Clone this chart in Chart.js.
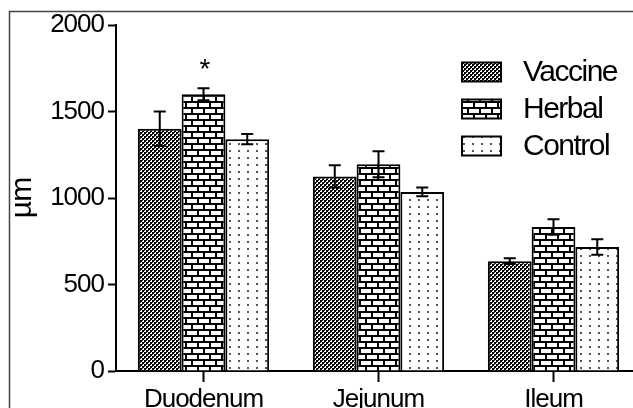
<!DOCTYPE html>
<html>
<head>
<meta charset="utf-8">
<script src="https://cdn.jsdelivr.net/npm/chart.js@4.4.1/dist/chart.umd.min.js"></script>
<style>
  html, body { margin: 0; padding: 0; background: #fff; overflow: hidden; }
  #wrap { position: relative; width: 660px; height: 408px; }
</style>
</head>
<body>
<div id="wrap"><canvas id="villusChart"></canvas></div>
<script>
// data
const segments = ['Duodenum', 'Jejunum', 'Ileum'];
const groups = ['Vaccine', 'Herbal', 'Control'];
const vaccineMean = [1400, 1125, 635];
const vaccineErr = [100, 65, 17];
const herbalMean = [1600, 1195, 832];
const herbalErr = [35, 75, 45];
const controlMean = [1340, 1035, 717];
const controlErr = [30, 25, 45];
const herbalMarks = ['*', '', ''];
const yTicks = [0, 500, 1000, 1500, 2000];
const yTickLabels = ['0', '500', '1000', '1500', '2000'];

const FONT = 'Liberation Sans, Arial, sans-serif';

// hatch patterns like the old print figure
function makePattern(kind) {
    const c = document.createElement('canvas');
    const g = c.getContext('2d');
    if (kind === 'check') {
        c.width = 4; c.height = 4;
        g.fillStyle = '#fff'; g.fillRect(0, 0, 4, 4);
        g.fillStyle = '#000';
        g.fillRect(0, 0, 2, 2);
        g.fillRect(2, 2, 2, 2);
        g.fillStyle = '#333';
        g.fillRect(2, 0, 1, 1);
        g.fillRect(0, 2, 1, 1);
    } else if (kind === 'brick') {
        c.width = 12; c.height = 12;
        g.fillStyle = '#000'; g.fillRect(0, 0, 12, 12);
        g.fillStyle = '#fff';
        g.fillRect(1, 1, 10, 4);
        g.fillRect(7, 7, 10, 4);
        g.fillRect(-5, 7, 10, 4);
    } else {
        c.width = 9; c.height = 7;
        g.fillStyle = '#fff'; g.fillRect(0, 0, 9, 7);
        g.fillStyle = '#555';
        g.fillRect(4, 3, 2, 2);
    }
    return g.createPattern(c, 'repeat');
}

const fills = [makePattern('check'), makePattern('brick'), makePattern('dots')];

const frame = {
    id: 'frame',
    beforeDraw(chart) {
        const ctx = chart.ctx;
        ctx.save();
        ctx.fillStyle = '#fff';
        ctx.fillRect(0, 0, chart.width, chart.height);
        ctx.strokeStyle = '#444';
        ctx.lineWidth = 1.5;
        ctx.strokeRect(9.5, 11.5, 800, 600);
        ctx.restore();
        // the figure's lettering is set tight
        ctx.letterSpacing = '-1px';
    }
};

const errorBars = {
    id: 'errorBars',
    afterDatasetsDraw(chart) {
        const ctx = chart.ctx;
        const y = chart.scales.y;
        ctx.save();
        ctx.strokeStyle = '#000';
        ctx.lineWidth = 2;
        chart.data.datasets.forEach((ds, i) => {
            const meta = chart.getDatasetMeta(i);
            meta.data.forEach((bar, j) => {
                const v = ds.data[j], e = ds.errors[j];
                const top = y.getPixelForValue(v + e);
                const bot = y.getPixelForValue(v - e);
                ctx.beginPath();
                ctx.moveTo(bar.x, top); ctx.lineTo(bar.x, bot);
                ctx.moveTo(bar.x - 6, top); ctx.lineTo(bar.x + 6, top);
                ctx.moveTo(bar.x - 6, bot); ctx.lineTo(bar.x + 6, bot);
                ctx.stroke();
                if (ds.marks && ds.marks[j]) {
                    ctx.fillStyle = '#000';
                    ctx.font = '28px ' + FONT;
                    ctx.textAlign = 'center';
                    ctx.textBaseline = 'bottom';
                    ctx.fillText(ds.marks[j], bar.x + 1, top - 4);
                }
            });
        });
        ctx.restore();
    }
};

const boxLegend = {
    id: 'boxLegend',
    afterDraw(chart, args, opts) {
        const ctx = chart.ctx;
        ctx.save();
        chart.data.datasets.forEach((ds, i) => {
            const yc = opts.y + i * opts.rowGap;
            ctx.fillStyle = ds.backgroundColor;
            ctx.fillRect(opts.x, yc - opts.h / 2, opts.w, opts.h);
            ctx.strokeStyle = '#000';
            ctx.lineWidth = 2;
            ctx.strokeRect(opts.x, yc - opts.h / 2, opts.w, opts.h);
            ctx.fillStyle = '#000';
            ctx.font = opts.font;
            ctx.letterSpacing = '-1.5px';
            ctx.textAlign = 'left';
            ctx.textBaseline = 'middle';
            ctx.fillText(ds.label, opts.x + opts.w + 22, yc + 1);
        });
        ctx.restore();
    }
};

const seriesMeans = [vaccineMean, herbalMean, controlMean];
const seriesErrs = [vaccineErr, herbalErr, controlErr];

new Chart(document.getElementById('villusChart'), {
    type: 'bar',
    data: {
        labels: segments,
        datasets: groups.map((g, i) => ({
            label: g,
            data: seriesMeans[i],
            errors: seriesErrs[i],
            marks: i === 1 ? herbalMarks : null,
            backgroundColor: fills[i],
            borderColor: '#000',
            borderWidth: 2,
            borderSkipped: 'bottom',
            categoryPercentage: 0.75,
            barPercentage: 1.0
        }))
    },
    options: {
        responsive: true,
        maintainAspectRatio: false,
        animation: false,
        layout: { padding: { top: 25, right: 19, bottom: 0, left: 0 } },
        plugins: {
            legend: { display: false },
            tooltip: { enabled: false },
            boxLegend: { x: 462, y: 72, rowGap: 37, w: 39, h: 19, font: '30px ' + FONT }
        },
        scales: {
            x: {
                afterFit(scale) { scale.height = 37; },
                grid: { display: true, offset: false, drawOnChartArea: false, tickLength: 11, tickWidth: 2, color: '#000' },
                border: { color: '#000', width: 2 },
                ticks: { color: '#000', padding: 2, font: { family: FONT, size: 26 } }
            },
            y: {
                min: 0,
                max: 2000,
                afterFit(scale) { scale.width = 116; },
                afterBuildTicks(scale) { scale.ticks = yTicks.map(v => ({ value: v })); },
                grid: { drawOnChartArea: false, tickLength: 8, tickWidth: 2, color: '#000' },
                border: { color: '#000', width: 2 },
                ticks: {
                    color: '#000',
                    padding: 4,
                    font: { family: FONT, size: 26 },
                    callback: (v) => yTickLabels[yTicks.indexOf(v)]
                },
                title: { display: true, text: 'µm', color: '#000', padding: { top: 5, bottom: 0 }, font: { family: FONT, size: 30 } }
            }
        }
    },
    plugins: [frame, errorBars, boxLegend]
});
</script>
</body>
</html>
